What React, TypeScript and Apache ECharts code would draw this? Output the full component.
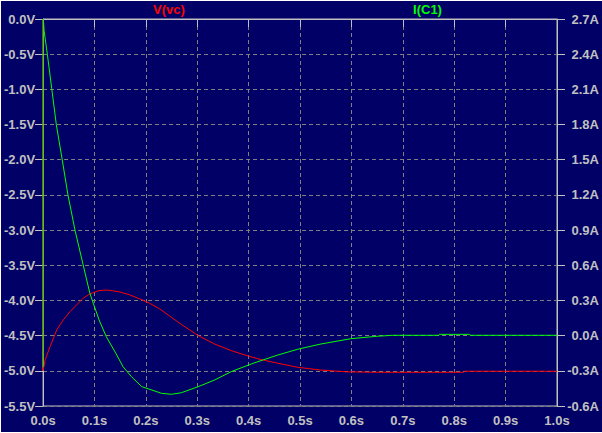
import React, { useEffect, useRef } from "react";
import * as echarts from "echarts";

// V(vc) samples (time in s, voltage in V)
const timeV = [0, 0, 0.004, 0.0136, 0.0266, 0.0393, 0.0523, 0.0653, 0.078, 0.091, 0.107, 0.118, 0.128, 0.149, 0.169, 0.188, 0.207, 0.227, 0.246, 0.269, 0.302, 0.334, 0.366, 0.399, 0.424, 0.457, 0.4955, 0.541, 0.592, 0.65, 0.7, 0.75, 0.818, 0.82, 0.9, 1.0];
const vc = [0, -5.0, -4.846, -4.657, -4.419, -4.277, -4.159, -4.064, -3.968, -3.907, -3.864, -3.854, -3.854, -3.879, -3.921, -3.978, -4.039, -4.12, -4.22, -4.34, -4.5, -4.62, -4.713, -4.789, -4.84, -4.893, -4.95, -4.99, -5.015, -5.021, -5.021, -5.021, -5.021, -5.006, -5.006, -5.006];

// I(C1) samples (time in s, current in A)
const timeI = [0, 0.0006, 0.002, 0.0083, 0.0169, 0.0258, 0.0374, 0.0484, 0.062, 0.078, 0.091, 0.0955, 0.109, 0.123, 0.1415, 0.1556, 0.172, 0.192, 0.2306, 0.25, 0.269, 0.302, 0.334, 0.366, 0.405, 0.424, 0.457, 0.4955, 0.541, 0.599, 0.651, 0.68, 0.77, 0.771, 0.83, 0.831, 1.0];
const ic = [-0.27, 2.7, 2.6, 2.4, 2.105, 1.798, 1.497, 1.2, 0.902, 0.603, 0.362, 0.304, 0.134, -0.009, -0.15, -0.265, -0.35, -0.435, -0.492, -0.5, -0.487, -0.435, -0.378, -0.307, -0.242, -0.213, -0.165, -0.116, -0.071, -0.026, -0.005, 0.003, 0.003, 0.011, 0.011, 0.003, 0.003];

const titleV = "V(vc)";
const titleI = "I(C1)";

const FONT = "Liberation Sans, Arial, sans-serif";
const LABEL = "#c0c0c0";

export default function App() {
  const ref = useRef<HTMLDivElement>(null);
  useEffect(() => {
    document.body.style.margin = "0";
    const chart = echarts.init(ref.current!, null, { renderer: "svg" });
    const labelStyle = { color: LABEL, fontFamily: FONT, fontWeight: "bold" as const, fontSize: 13 };
    chart.setOption({
      animation: false,
      backgroundColor: "#000066",
      grid: { left: 40, top: 18, width: 516, height: 387, show: true, borderColor: LABEL, borderWidth: 1 },
      xAxis: {
        type: "value",
        min: 0,
        max: 1,
        interval: 0.1,
        axisLine: { show: true, lineStyle: { color: LABEL } },
        axisTick: { show: true, length: 8, lineStyle: { color: LABEL } },
        axisLabel: { ...labelStyle, margin: 8, formatter: (v: number) => v.toFixed(1) + "s" },
        splitLine: { show: true, lineStyle: { color: "#808080", type: [4, 3] } },
      },
      yAxis: [
        {
          type: "value",
          position: "left",
          min: -5.5,
          max: 0,
          interval: 0.5,
          axisLine: { show: true, lineStyle: { color: LABEL } },
          axisTick: { show: true, length: 8, lineStyle: { color: LABEL } },
          axisLabel: { ...labelStyle, margin: 8, formatter: (v: number) => v.toFixed(1) + "V" },
          splitLine: { show: true, lineStyle: { color: "#808080", type: [4, 3] } },
        },
        {
          type: "value",
          position: "right",
          min: -0.6,
          max: 2.7,
          interval: 0.3,
          axisLine: { show: true, lineStyle: { color: LABEL } },
          axisTick: { show: true, length: 8, lineStyle: { color: LABEL } },
          axisLabel: { ...labelStyle, margin: 42, align: "right", formatter: (v: number) => v.toFixed(1) + "A" },
          splitLine: { show: false },
        },
      ],
      graphic: [
        { type: "text", x: 168, y: 8, style: { text: titleV, fill: "#ff0000", font: `bold 13px ${FONT}`, textAlign: "center", textVerticalAlign: "middle" } },
        { type: "text", x: 426.5, y: 8, style: { text: titleI, fill: "#00ff00", font: `bold 13px ${FONT}`, textAlign: "center", textVerticalAlign: "middle" } },
      ],
      series: [
        {
          type: "line",
          name: titleV,
          yAxisIndex: 0,
          showSymbol: false,
          data: timeV.map((t, i) => [t, vc[i]]),
          lineStyle: { color: "#ff0000", width: 1 },
          itemStyle: { color: "#ff0000" },
        },
        {
          type: "line",
          name: titleI,
          yAxisIndex: 1,
          showSymbol: false,
          data: timeI.map((t, i) => [t, ic[i]]),
          lineStyle: { color: "#00ff00", width: 1 },
          itemStyle: { color: "#00ff00" },
        },
      ],
    });
    return () => chart.dispose();
  }, []);
  return (
    <div style={{ position: "relative", width: 602, height: 433, background: "#ffffff" }}>
      <div ref={ref} style={{ position: "absolute", left: 1, top: 1, width: 601, height: 431 }} />
    </div>
  );
}
